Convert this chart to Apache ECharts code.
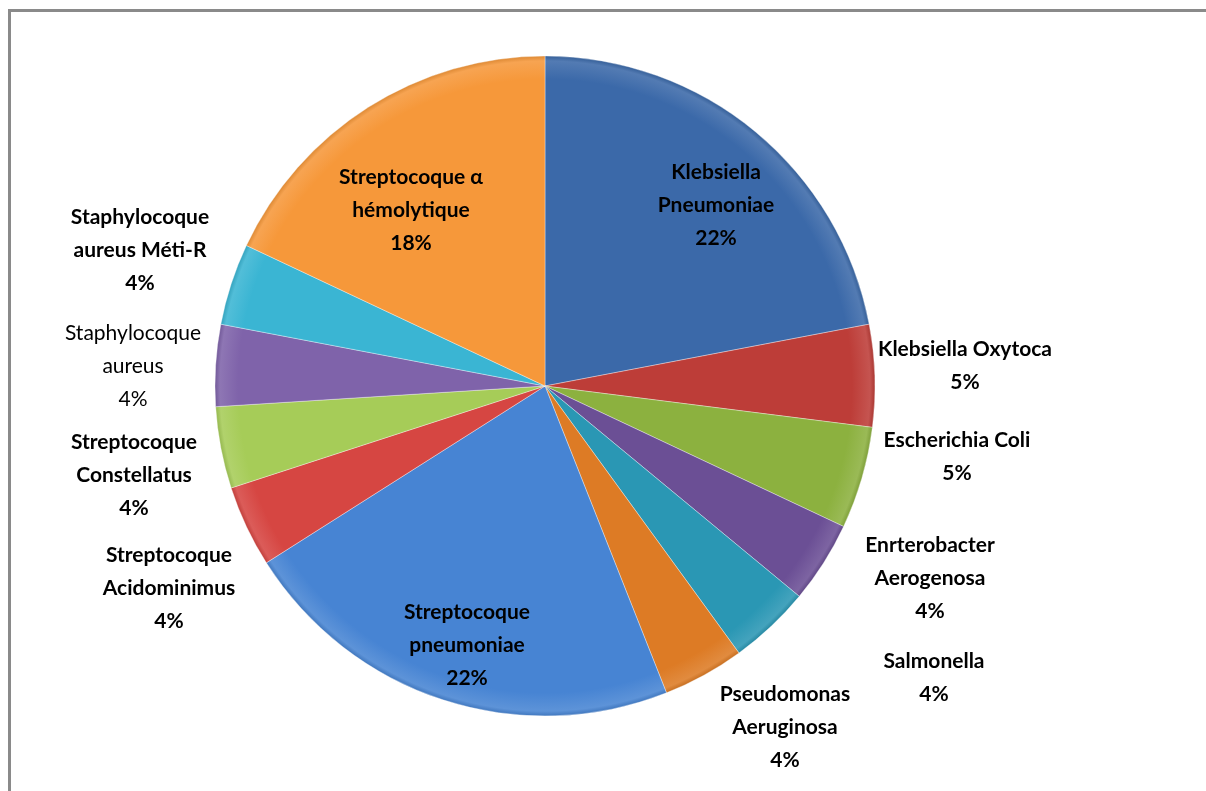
<!DOCTYPE html>
<html>
<head>
<meta charset="utf-8">
<script src="https://cdn.jsdelivr.net/npm/echarts@6/dist/echarts.min.js"></script>
<style>
  html, body { margin: 0; padding: 0; background: #ffffff; overflow: hidden; }
  #frame {
    position: absolute; left: 8px; top: 9px; width: 1400px; height: 1000px;
    border-left: 3px solid #8a8a8a; border-top: 3px solid #8a8a8a;
    box-sizing: border-box;
  }
  #chart { position: absolute; left: 0; top: 0; width: 1206px; height: 791px; }
</style>
</head>
<body>
<div id="frame"></div>
<div id="chart"></div>
<script>
// Germes isolés (% des prélèvements)
const categories = [
  'Klebsiella\nPneumoniae',
  'Klebsiella Oxytoca',
  'Escherichia Coli',
  'Enrterobacter\nAerogenosa',
  'Salmonella',
  'Pseudomonas\nAeruginosa',
  'Streptocoque\npneumoniae',
  'Streptocoque\nAcidominimus',
  'Streptocoque\nConstellatus',
  'Staphylocoque\naureus',
  'Staphylocoque\naureus Méti-R',
  'Streptocoque α\nhémolytique'
];
const percents = [22, 5, 5, 4, 4, 4, 22, 4, 4, 4, 4, 18];

// slice colours
const sliceColors = [
  '#3b69a9', '#bd3d38', '#8cb13f', '#6b4f95', '#2a97b4', '#dd7b25',
  '#4784d3', '#d64642', '#a6cc58', '#7f63aa', '#3ab5d3', '#f6983a'
];

// label centres (px) for each slice, Excel "best fit" placement
const labelSpots = [
  [716, 205], [965, 366], [957, 457], [930, 578], [934, 678], [785, 727],
  [467, 645], [169, 588], [134, 475], [133, 366], [140, 250], [411, 210]
];

const CX = 545, CY = 386, R = 330;

function lighten(hex, k) {
  const n = parseInt(hex.slice(1), 16);
  let r = (n >> 16) & 255, g = (n >> 8) & 255, b = n & 255;
  r = Math.round(r + (255 - r) * k); g = Math.round(g + (255 - g) * k); b = Math.round(b + (255 - b) * k);
  return 'rgb(' + r + ',' + g + ',' + b + ')';
}
function darken(hex, k) {
  const n = parseInt(hex.slice(1), 16);
  let r = (n >> 16) & 255, g = (n >> 8) & 255, b = n & 255;
  return 'rgb(' + Math.round(r * (1 - k)) + ',' + Math.round(g * (1 - k)) + ',' + Math.round(b * (1 - k)) + ')';
}

const seriesData = categories.map((name, i) => ({
  name: name,
  value: percents[i],
  itemStyle: {
    color: {
      type: 'radial', x: CX, y: CY, r: R, global: true,
      colorStops: [
        { offset: 0, color: sliceColors[i] },
        { offset: 0.93, color: sliceColors[i] },
        { offset: 0.985, color: lighten(sliceColors[i], 0.12) },
        { offset: 1, color: darken(sliceColors[i], 0.1) }
      ]
    }
  },
  label: (i === 9) ? { fontWeight: 'normal' } : undefined
}));

const chart = echarts.init(document.getElementById('chart'), null, { renderer: 'canvas' });
chart.setOption({
  backgroundColor: 'transparent',
  animation: false,
  series: [{
    type: 'pie',
    center: [CX, CY],
    radius: [0, R],
    startAngle: 90,
    clockwise: true,
    data: seriesData,
    itemStyle: {
      borderColor: 'rgba(255,255,255,0.35)',
      borderWidth: 1
    },
    label: {
      show: true,
      position: 'inside',
      formatter: p => p.name + '\n' + p.value + '%',
      fontFamily: 'Lato, "Open Sans", sans-serif',
      fontSize: 21,
      fontWeight: 'bold',
      lineHeight: 33,
      color: '#000000',
      align: 'center'
    },
    labelLine: { show: false },
    labelLayout: function (params) {
      const s = labelSpots[params.dataIndex];
      return {
        x: s[0],
        y: s[1],
        align: 'center',
        verticalAlign: 'middle'
      };
    },
    emphasis: { disabled: true }
  }]
});
</script>
</body>
</html>
